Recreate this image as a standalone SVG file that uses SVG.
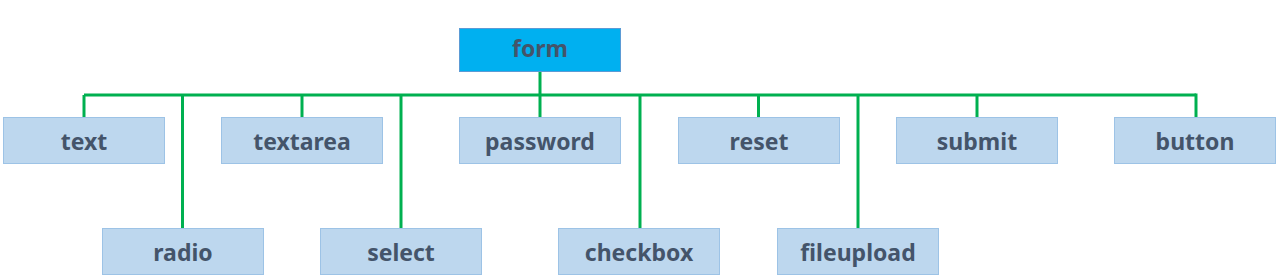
<svg xmlns="http://www.w3.org/2000/svg" width="1276" height="280" viewBox="0 0 1276 280">
<style>
.n rect{fill:#BDD7EE;stroke:#9DC3E6;stroke-width:1}
.root rect{fill:#00B0F0;stroke:#5B9BD5;stroke-width:1}
text{font-family:"Noto Sans","Open Sans","DejaVu Sans",sans-serif;font-weight:bold;font-size:23px;fill:#44546A;text-anchor:middle}
.c{stroke:#00B050;stroke-width:3;fill:none}
</style>
<rect width="1276" height="280" fill="#FFFFFF"/>
<g id="connectors" class="c">
<path d="M84 95 H1196"/>
<path d="M540 71 V117.5"/>
<path d="M84 95 V117.5"/>
<path d="M182.5 95 V228.5"/>
<path d="M302 95 V117.5"/>
<path d="M401 95 V228.5"/>
<path d="M640 95 V228.5"/>
<path d="M758.5 95 V117.5"/>
<path d="M858 95 V228.5"/>
<path d="M977 95 V117.5"/>
<path d="M1196 93.5 V117.5"/>
</g>
<g id="form" class="root"><rect x="459.5" y="28.5" width="161" height="43"/><text x="540" y="57">form</text></g>
<g id="text" class="n"><rect x="3.5" y="117.5" width="161" height="46"/><text x="84" y="149.5">text</text></g>
<g id="textarea" class="n"><rect x="221.5" y="117.5" width="161" height="46"/><text x="302" y="149.5">textarea</text></g>
<g id="password" class="n"><rect x="459.5" y="117.5" width="161" height="46"/><text x="540" y="149.5">password</text></g>
<g id="reset" class="n"><rect x="678.5" y="117.5" width="161" height="46"/><text x="759" y="149.5">reset</text></g>
<g id="submit" class="n"><rect x="896.5" y="117.5" width="161" height="46"/><text x="977" y="149.5">submit</text></g>
<g id="button" class="n"><rect x="1114.5" y="117.5" width="161" height="46"/><text x="1195" y="149.5">button</text></g>
<g id="radio" class="n"><rect x="102.5" y="228.5" width="161" height="46"/><text x="183" y="260.5">radio</text></g>
<g id="select" class="n"><rect x="320.5" y="228.5" width="161" height="46"/><text x="401" y="260.5">select</text></g>
<g id="checkbox" class="n"><rect x="558.5" y="228.5" width="161" height="46"/><text x="639" y="260.5">checkbox</text></g>
<g id="fileupload" class="n"><rect x="777.5" y="228.5" width="161" height="46"/><text x="858" y="260.5">fileupload</text></g>
</svg>
